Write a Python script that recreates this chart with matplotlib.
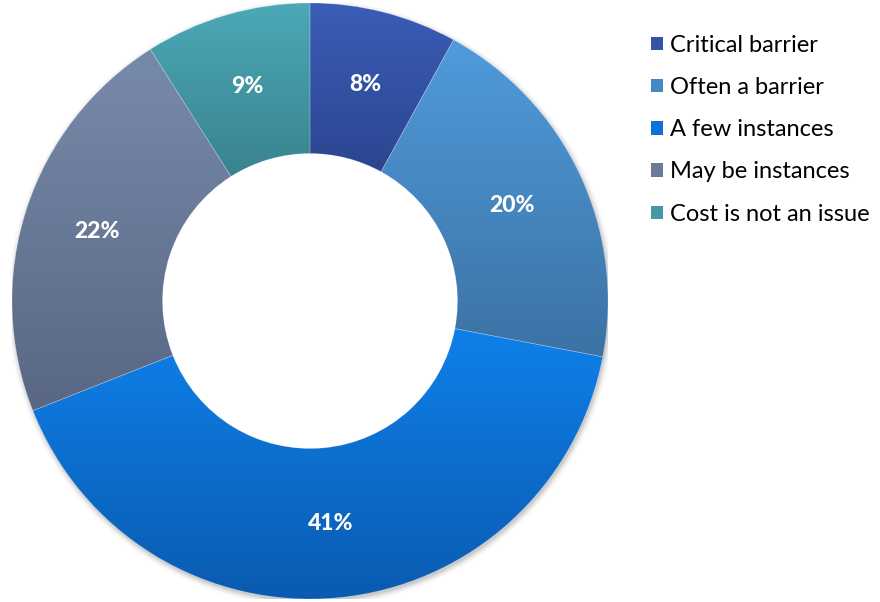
import numpy as np
import matplotlib
matplotlib.use('Agg')
import matplotlib.pyplot as plt
from matplotlib.colors import LinearSegmentedColormap
from matplotlib.patches import Patch

plt.rcParams['font.family'] = ['Lato', 'DejaVu Sans']

labels = ['Critical barrier', 'Often a barrier', 'A few instances',
          'May be instances', 'Cost is not an issue']
shares = [8, 20, 41, 22, 9]
# (top, bottom) colours of the vertical gradient in each slice
tops = ['#3b5db6', '#4f9bdb', '#0f80ea', '#788aaa', '#4ca8b7']
bottoms = ['#2b4590', '#3c72a5', '#0a5bb0', '#596785', '#39838f']

fig = plt.figure(figsize=(8.8, 6.02), dpi=100)
ax = fig.add_axes([12 / 880, 3 / 602, 596 / 880, 596 / 602])
ax.set_xlim(-1, 1)
ax.set_ylim(-1, 1)
ax.axis('off')

# soft shadow under the ring
for k, a in enumerate(np.linspace(0.06, 0.01, 6)):
    sh = plt.Circle((0.004, -0.008), 1.0 + 0.004 * k, color='black', alpha=a, zorder=0, lw=0)
    ax.add_patch(sh)

wedges, texts = ax.pie(shares, startangle=90, counterclock=False, radius=1,
                       wedgeprops=dict(width=0.505, linewidth=0.5, edgecolor=(1, 1, 1, 0.25)))

for w, top, bot in zip(wedges, tops, bottoms):
    w.set_facecolor('none')
    w.set_zorder(3)
    ext = w.get_path().get_extents()
    cmap = LinearSegmentedColormap.from_list('g', [bot, top])
    grad = np.linspace(0, 1, 256).reshape(-1, 1)
    im = ax.imshow(grad, cmap=cmap, origin='lower', aspect='auto',
                   extent=[ext.x0, ext.x1, ext.y0, ext.y1], zorder=2)
    im.set_clip_path(w)

ax.add_patch(plt.Circle((0, 0), 0.495, color='white', zorder=1.5))
ax.set_xlim(-1, 1)
ax.set_ylim(-1, 1)

start = 90.0
for s in shares:
    mid = np.deg2rad(start - s * 3.6 / 2)
    ax.text(0.75 * np.cos(mid), 0.75 * np.sin(mid), f'{s}%', color='white',
            fontsize=16.5, fontweight=900, ha='center', va='center', zorder=5)
    start -= s * 3.6

handles = [Patch(facecolor=c) for c in [
    '#3452a6', '#4688c4', '#0d72d8', '#6a7a99', '#4398a5']]
fig.legend(handles, labels, loc='upper left', bbox_to_anchor=(0.729, 0.958),
           frameon=False, fontsize=17, handlelength=0.5, handleheight=0.5,
           handletextpad=0.3, labelspacing=0.9, borderaxespad=0)

fig.savefig('out.png', dpi=100, facecolor='white')
